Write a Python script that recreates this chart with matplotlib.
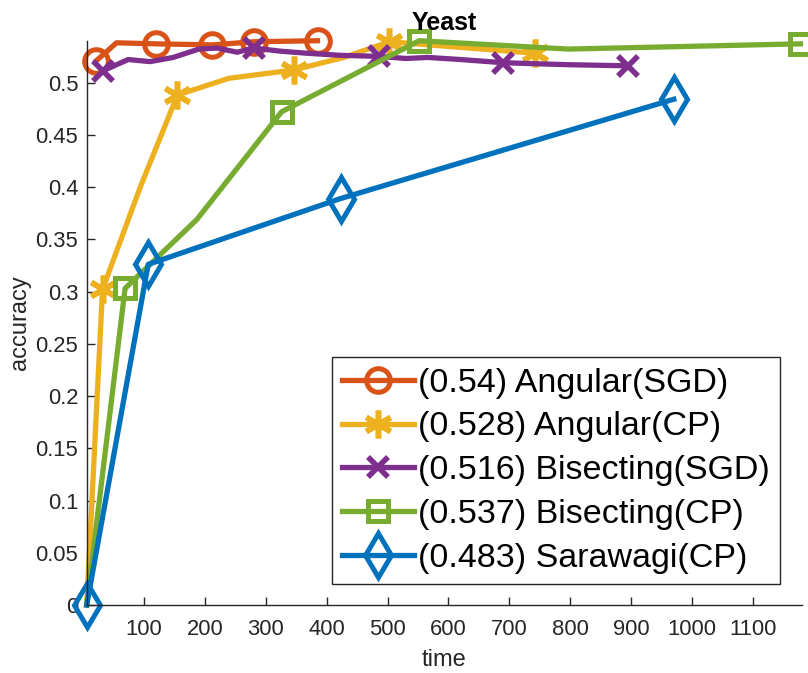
import numpy as np
import matplotlib
matplotlib.use('Agg')
import matplotlib.pyplot as plt
from matplotlib.ticker import FuncFormatter

plt.rcParams['font.family'] = ['Liberation Sans', 'DejaVu Sans']

# data
x_ang_sgd = [22, 55, 120, 212, 280, 385]
y_ang_sgd = [0.521, 0.538, 0.537, 0.536, 0.539, 0.540]

x_ang_cp = [6, 32, 94, 155, 239, 346, 428, 503, 742]
y_ang_cp = [0, 0.302, 0.40, 0.488, 0.504, 0.512, 0.524, 0.539, 0.528]

x_bis_sgd = [32, 74, 110, 148, 190, 220, 253, 280, 324, 368, 423, 486, 530, 566, 620, 689, 740, 800, 894]
y_bis_sgd = [0.511, 0.522, 0.520, 0.524, 0.532, 0.533, 0.529, 0.533, 0.530, 0.528, 0.526,
             0.525, 0.523, 0.524, 0.522, 0.519, 0.518, 0.517, 0.516]

x_bis_cp = [6, 69, 187, 326, 552, 797, 1178]
y_bis_cp = [0, 0.303, 0.369, 0.472, 0.540, 0.532, 0.537]

x_sar_cp = [6, 107, 423, 970]
y_sar_cp = [0, 0.326, 0.389, 0.484]

labels = ['(0.54) Angular(SGD)', '(0.528) Angular(CP)', '(0.516) Bisecting(SGD)',
          '(0.537) Bisecting(CP)', '(0.483) Sarawagi(CP)']

fig = plt.figure(figsize=(8.08, 6.73), dpi=100)
ax = fig.add_axes([0.1073, 0.1010, 0.8849, 0.8385])

lw = 3.8
ax.plot(x_ang_sgd, y_ang_sgd, color='#D95319', lw=lw, marker='o', ms=17, mew=3.6,
        fillstyle='none', markevery=[0, 2, 3, 4, 5], label=labels[0], clip_on=False)
ax.plot(x_ang_cp, y_ang_cp, color='#EDB120', lw=lw, marker=(6, 2, 0), ms=20, mew=4,
        markevery=[1, 3, 5, 7, 8], label=labels[1], clip_on=False)
ax.plot(x_bis_sgd, y_bis_sgd, color='#7E2F8E', lw=lw, marker='x', ms=15, mew=4,
        markevery=[0, 7, 11, 15, 18], label=labels[2], clip_on=False)
ax.plot(x_bis_cp, y_bis_cp, color='#77AC30', lw=lw, marker='s', ms=15, mew=3.6,
        fillstyle='none', markevery=[1, 3, 4, 6], label=labels[3], clip_on=False)
ax.plot(x_sar_cp, y_sar_cp, color='#0072BD', lw=lw, marker='d', ms=22, mew=3.6,
        fillstyle='none', label=labels[4], clip_on=False)

ax.set_xlim(6, 1180)
ax.set_ylim(0, 0.54)
ax.set_xticks(np.arange(100, 1101, 100))
ax.set_yticks(np.arange(0, 0.501, 0.05))
ax.yaxis.set_major_formatter(FuncFormatter(lambda v, p: '%g' % round(v, 2)))

# matlab look: box off, ticks inside
for s in ['top', 'right']:
    ax.spines[s].set_visible(False)
for s in ['left', 'bottom']:
    ax.spines[s].set_color('#262626')
    ax.spines[s].set_linewidth(1.0)
ax.tick_params(direction='in', length=6, width=1, color='#262626',
               labelcolor='#262626', labelsize=15.8)
ax.tick_params(axis='x', pad=10)
ax.tick_params(axis='y', pad=6)

ax.set_xlabel('time', fontsize=17, color='#262626')
ax.set_ylabel('accuracy', fontsize=17, color='#262626')
ax.xaxis.set_label_coords(0.5, -0.078)
ax.yaxis.set_label_coords(-0.078, 0.5)
ax.set_title('Yeast', fontsize=18, fontweight='bold', pad=8)

leg = ax.legend(loc='upper right', bbox_to_anchor=(0.970, 0.439), borderaxespad=0,
                fontsize=24.5, fancybox=False, framealpha=1, edgecolor='#262626',
                handlelength=2.1, handletextpad=0.13, borderpad=0.3, labelspacing=0.38)
leg.get_frame().set_linewidth(1.0)

plt.savefig('out.png', dpi=100)
